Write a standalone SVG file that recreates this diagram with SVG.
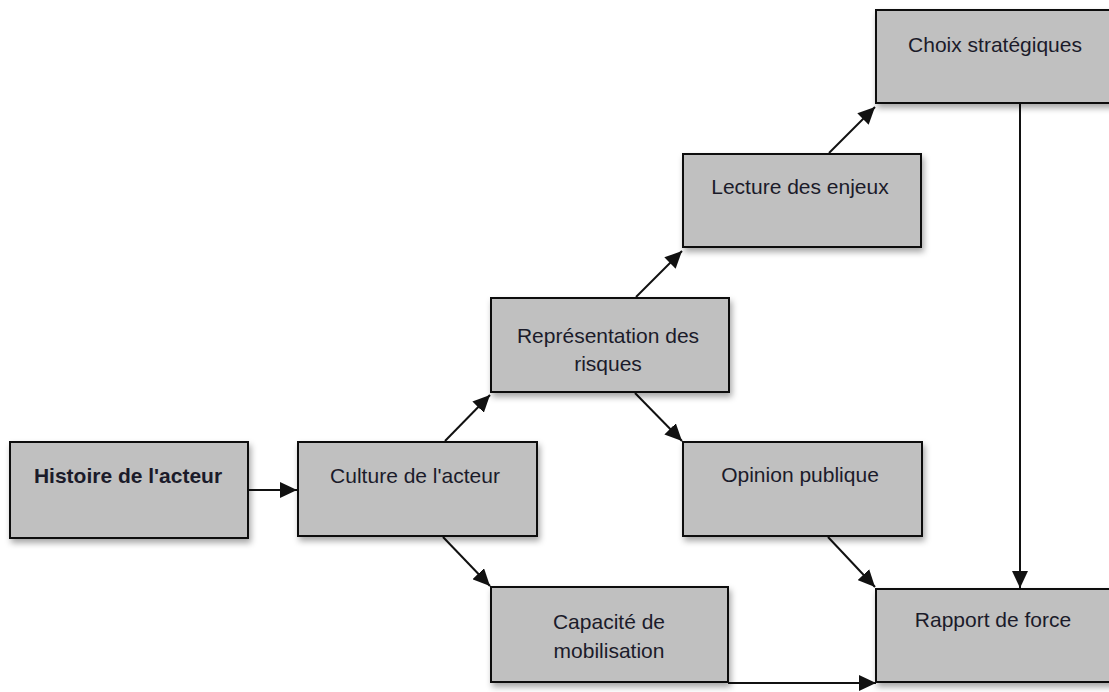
<svg xmlns="http://www.w3.org/2000/svg" width="1109" height="692" viewBox="0 0 1109 692">
  <style>
    .box { fill: #c0c0c0; stroke: #111; stroke-width: 2; filter: url(#sh); }
    .lbl { font-family: "Liberation Sans", Arial, sans-serif; font-size: 21px; fill: #1b1b2a; text-anchor: middle; }
    .bold { font-weight: bold; }
    .edge { stroke: #111; stroke-width: 2; fill: none; marker-end: url(#arr); }
  </style>
  <defs>
    <filter id="sh" x="-10%" y="-10%" width="130%" height="140%">
      <feDropShadow dx="2" dy="4" stdDeviation="3" flood-color="#000" flood-opacity="0.35"/>
    </filter>
    <marker id="arr" markerUnits="userSpaceOnUse" markerWidth="18" markerHeight="16" refX="17" refY="8" orient="auto">
      <path d="M0,0 L17,8 L0,16 z" fill="#111"/>
    </marker>
  </defs>
  <rect width="1109" height="692" fill="#fff"/>

  <g id="connectors">
    <line class="edge" x1="248" y1="490" x2="297" y2="490"/>
    <line class="edge" x1="445" y1="441" x2="490" y2="395"/>
    <line class="edge" x1="443" y1="537" x2="490" y2="586"/>
    <line class="edge" x1="636" y1="297" x2="682" y2="251"/>
    <line class="edge" x1="635" y1="393" x2="682" y2="441"/>
    <line class="edge" x1="829" y1="153" x2="875" y2="107"/>
    <line class="edge" x1="828" y1="537" x2="875" y2="587"/>
    <line class="edge" x1="1020" y1="103" x2="1020" y2="588"/>
    <line class="edge" x1="728" y1="683" x2="876" y2="683"/>
  </g>

  <g id="histoire">
    <rect class="box" x="10" y="442" width="238" height="96"/>
    <text class="lbl bold" x="128" y="483">Histoire de l'acteur</text>
  </g>
  <g id="culture">
    <rect class="box" x="298" y="442" width="239" height="94"/>
    <text class="lbl" x="415" y="483">Culture de l'acteur</text>
  </g>
  <g id="representation">
    <rect class="box" x="491" y="298" width="238" height="94"/>
    <text class="lbl" x="608" y="343">Représentation des</text>
    <text class="lbl" x="608" y="371">risques</text>
  </g>
  <g id="lecture">
    <rect class="box" x="683" y="154" width="238" height="93"/>
    <text class="lbl" x="800" y="194">Lecture des enjeux</text>
  </g>
  <g id="choix">
    <rect class="box" x="876" y="10" width="240" height="93"/>
    <text class="lbl" x="995" y="52">Choix stratégiques</text>
  </g>
  <g id="opinion">
    <rect class="box" x="683" y="442" width="239" height="94"/>
    <text class="lbl" x="800" y="482">Opinion publique</text>
  </g>
  <g id="capacite">
    <rect class="box" x="491" y="587" width="237" height="95"/>
    <text class="lbl" x="609" y="629">Capacité de</text>
    <text class="lbl" x="609" y="658">mobilisation</text>
  </g>
  <g id="rapport">
    <rect class="box" x="876" y="589" width="240" height="93"/>
    <text class="lbl" x="993" y="627">Rapport de force</text>
  </g>
</svg>
